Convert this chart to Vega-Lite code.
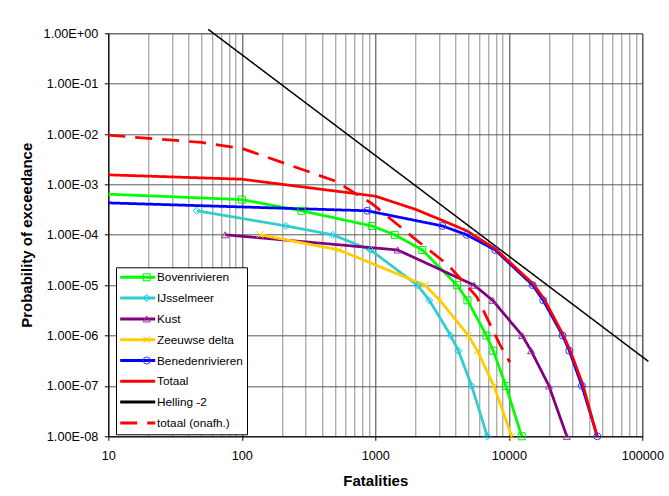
{
  "$schema": "https://vega.github.io/schema/vega-lite/v6.json",
  "width": 534,
  "height": 403,
  "autosize": {"type": "none"},
  "padding": {"left": 108.3, "top": 33.3, "right": 26.7, "bottom": 59.7},
  "background": "white",
  "config": {
    "font": "Liberation Sans",
    "view": {"stroke": "#808080", "strokeWidth": 1},
    "axis": {"labelFont": "Liberation Sans", "titleFont": "Liberation Sans", "labelColor": "#000", "titleColor": "#000", "domainColor": "#000", "tickColor": "#000", "domainWidth": 1}
  },
  "data": {
    "values": [
      {"series": "Bovenrivieren", "N": 10, "P": 6.4e-4},
      {"series": "Bovenrivieren", "N": 100, "P": 5e-4},
      {"series": "Bovenrivieren", "N": 280, "P": 3e-4},
      {"series": "Bovenrivieren", "N": 940, "P": 1.5e-4},
      {"series": "Bovenrivieren", "N": 1400, "P": 1e-4},
      {"series": "Bovenrivieren", "N": 2250, "P": 5e-5},
      {"series": "Bovenrivieren", "N": 4100, "P": 1e-5},
      {"series": "Bovenrivieren", "N": 4900, "P": 5e-6},
      {"series": "Bovenrivieren", "N": 6800, "P": 1e-6},
      {"series": "Bovenrivieren", "N": 7650, "P": 5e-7},
      {"series": "Bovenrivieren", "N": 9500, "P": 1e-7},
      {"series": "Bovenrivieren", "N": 12500, "P": 1e-8},
      {"series": "IJsselmeer", "N": 46, "P": 3e-4},
      {"series": "IJsselmeer", "N": 214, "P": 1.5e-4},
      {"series": "IJsselmeer", "N": 480, "P": 1e-4},
      {"series": "IJsselmeer", "N": 920, "P": 5e-5},
      {"series": "IJsselmeer", "N": 2070, "P": 1e-5},
      {"series": "IJsselmeer", "N": 2540, "P": 5e-6},
      {"series": "IJsselmeer", "N": 3670, "P": 1e-6},
      {"series": "IJsselmeer", "N": 4190, "P": 5e-7},
      {"series": "IJsselmeer", "N": 5270, "P": 1e-7},
      {"series": "IJsselmeer", "N": 6900, "P": 1e-8},
      {"series": "Kust", "N": 75, "P": 1e-4},
      {"series": "Kust", "N": 1470, "P": 5e-5},
      {"series": "Kust", "N": 5500, "P": 1e-5},
      {"series": "Kust", "N": 7570, "P": 5e-6},
      {"series": "Kust", "N": 12600, "P": 1e-6},
      {"series": "Kust", "N": 14700, "P": 5e-7},
      {"series": "Kust", "N": 20000, "P": 1e-7},
      {"series": "Kust", "N": 27200, "P": 1e-8},
      {"series": "Zeeuwse delta", "N": 137, "P": 1e-4},
      {"series": "Zeeuwse delta", "N": 535, "P": 5e-5},
      {"series": "Zeeuwse delta", "N": 2350, "P": 1e-5},
      {"series": "Zeeuwse delta", "N": 3050, "P": 5e-6},
      {"series": "Zeeuwse delta", "N": 4980, "P": 1e-6},
      {"series": "Zeeuwse delta", "N": 5810, "P": 5e-7},
      {"series": "Zeeuwse delta", "N": 7740, "P": 1e-7},
      {"series": "Zeeuwse delta", "N": 10500, "P": 1e-8},
      {"series": "Benedenrivieren", "N": 10, "P": 4.3e-4},
      {"series": "Benedenrivieren", "N": 870, "P": 3e-4},
      {"series": "Benedenrivieren", "N": 3180, "P": 1.5e-4},
      {"series": "Benedenrivieren", "N": 4840, "P": 1e-4},
      {"series": "Benedenrivieren", "N": 7900, "P": 5e-5},
      {"series": "Benedenrivieren", "N": 15100, "P": 1e-5},
      {"series": "Benedenrivieren", "N": 18100, "P": 5e-6},
      {"series": "Benedenrivieren", "N": 25300, "P": 1e-6},
      {"series": "Benedenrivieren", "N": 28400, "P": 5e-7},
      {"series": "Benedenrivieren", "N": 35300, "P": 1e-7},
      {"series": "Benedenrivieren", "N": 46000, "P": 1e-8},
      {"series": "Totaal", "N": 10, "P": 1.55e-3},
      {"series": "Totaal", "N": 100, "P": 1.27e-3},
      {"series": "Totaal", "N": 1000, "P": 5.85e-4},
      {"series": "Totaal", "N": 2000, "P": 3.2e-4},
      {"series": "Totaal", "N": 3150, "P": 1.95e-4},
      {"series": "Totaal", "N": 4840, "P": 1.2e-4},
      {"series": "Totaal", "N": 7900, "P": 5.3e-5},
      {"series": "Totaal", "N": 15300, "P": 1.05e-5},
      {"series": "Totaal", "N": 18400, "P": 5.3e-6},
      {"series": "Totaal", "N": 25600, "P": 1.02e-6},
      {"series": "Totaal", "N": 28700, "P": 5.2e-7},
      {"series": "Totaal", "N": 36000, "P": 1.03e-7},
      {"series": "Totaal", "N": 45800, "P": 1e-8},
      {"series": "Helling -2", "N": 56, "P": 1.2},
      {"series": "Helling -2", "N": 111000, "P": 3.07e-7},
      {"series": "totaal (onafh.)", "N": 10, "P": 9.5e-3},
      {"series": "totaal (onafh.)", "N": 50, "P": 6.8e-3},
      {"series": "totaal (onafh.)", "N": 100, "P": 5.2e-3},
      {"series": "totaal (onafh.)", "N": 500, "P": 1.17e-3},
      {"series": "totaal (onafh.)", "N": 940, "P": 4.2e-4},
      {"series": "totaal (onafh.)", "N": 2040, "P": 7.8e-5},
      {"series": "totaal (onafh.)", "N": 3520, "P": 2.5e-5},
      {"series": "totaal (onafh.)", "N": 5750, "P": 5.9e-6},
      {"series": "totaal (onafh.)", "N": 8500, "P": 6.9e-7},
      {"series": "totaal (onafh.)", "N": 10200, "P": 2.95e-7}
    ]
  },
  "encoding": {
    "x": {
      "field": "N",
      "type": "quantitative",
      "scale": {"type": "log", "domain": [10, 100000], "nice": false},
      "axis": {
        "title": "Fatalities",
        "titleFontSize": 15,
        "titleFontWeight": "bold",
        "titleBaseline": "alphabetic",
        "titleX": 267,
        "titleY": 49,
        "values": [10, 20, 30, 40, 50, 60, 70, 80, 90, 100, 200, 300, 400, 500, 600, 700, 800, 900, 1000, 2000, 3000, 4000, 5000, 6000, 7000, 8000, 9000, 10000, 20000, 30000, 40000, 50000, 60000, 70000, 80000, 90000, 100000],
        "labelExpr": "abs(log(datum.value)/LN10 - round(log(datum.value)/LN10)) < 0.000001 ? format(datum.value, 'd') : ''",
        "labelFontSize": 12.7,
        "labelPadding": 9.5,
        "labelFlush": false,
        "labelOverlap": false,
        "labelBound": false,
        "tickSize": 4,
        "tickOpacity": {"condition": {"test": "abs(log(datum.value)/LN10 - round(log(datum.value)/LN10)) < 0.000001", "value": 1}, "value": 0},
        "grid": true,
        "gridColor": {"condition": {"test": "abs(log(datum.value)/LN10 - round(log(datum.value)/LN10)) < 0.000001", "value": "#404040"}, "value": "#8c8c8c"},
        "gridOpacity": 1,
        "gridWidth": 1
      }
    },
    "y": {
      "field": "P",
      "type": "quantitative",
      "scale": {"type": "log", "domain": [1e-8, 1], "nice": false},
      "axis": {
        "title": "Probability of exceedance",
        "titleFontSize": 15,
        "titleFontWeight": "bold",
        "titleBaseline": "alphabetic",
        "titleX": -77.3,
        "titleY": 201.5,
        "values": [1e-8, 1e-7, 1e-6, 1e-5, 1e-4, 1e-3, 1e-2, 1e-1, 1],
        "labelExpr": "'1.00E' + (round(log(datum.value)/LN10) < 0 ? '-' : '+') + (abs(round(log(datum.value)/LN10)) < 10 ? '0' : '') + abs(round(log(datum.value)/LN10))",
        "labelFontSize": 12.7,
        "labelPadding": 6.5,
        "labelFlush": false,
        "labelOverlap": false,
        "labelBound": false,
        "tickSize": 4,
        "grid": true,
        "gridColor": "#595959",
        "gridOpacity": 1,
        "gridWidth": 1
      }
    }
  },
  "layer": [
    {
      "mark": {"type": "line", "clip": false},
      "encoding": {
        "color": {
          "field": "series",
          "type": "nominal",
          "scale": {
            "domain": ["Bovenrivieren", "IJsselmeer", "Kust", "Zeeuwse delta", "Benedenrivieren", "Totaal", "Helling -2", "totaal (onafh.)"],
            "range": ["#00ff00", "#33cccc", "#800080", "#ffcc00", "#0000ff", "#ff0000", "#000000", "#ff0000"]
          },
          "legend": {
            "orient": "none", "legendX": 7.7, "legendY": 234, "title": null, "columns": 1,
            "clipHeight": 12, "rowPadding": 7.8, "padding": 4,
            "strokeColor": "#000000", "fillColor": "#ffffff",
            "symbolType": "stroke", "symbolSize": 1225, "symbolStrokeWidth": 3,
            "symbolOffset": -1.3, "labelOffset": 0.3,
            "labelFont": "Liberation Sans", "labelFontSize": 11.8, "labelColor": "#000000",
            "zindex": 0
          }
        },
        "strokeDash": {
          "field": "series",
          "type": "nominal",
          "scale": {
            "domain": ["Bovenrivieren", "IJsselmeer", "Kust", "Zeeuwse delta", "Benedenrivieren", "Totaal", "Helling -2", "totaal (onafh.)"],
            "range": [[1, 0], [1, 0], [1, 0], [1, 0], [1, 0], [1, 0], [1, 0], [17, 10]]
          },
          "legend": {
            "orient": "none", "legendX": 7.7, "legendY": 234, "title": null, "columns": 1,
            "clipHeight": 12, "rowPadding": 7.8, "padding": 4,
            "strokeColor": "#000000", "fillColor": "#ffffff",
            "symbolType": "stroke", "symbolSize": 1225, "symbolStrokeWidth": 3,
            "symbolOffset": -1.3, "labelOffset": 0.3,
            "labelFont": "Liberation Sans", "labelFontSize": 11.8, "labelColor": "#000000",
            "zindex": 0
          }
        },
        "strokeWidth": {"condition": {"test": "datum.series === 'Helling -2'", "value": 1.5}, "value": 2.75}
      }
    },
    {
      "transform": [
        {"filter": "indexof(['Bovenrivieren','IJsselmeer','Kust','Zeeuwse delta','Benedenrivieren'], datum.series) >= 0 && datum.N > 10"}
      ],
      "mark": {"type": "point", "filled": false, "strokeWidth": 1, "size": 49, "opacity": 1},
      "encoding": {
        "color": {
          "field": "series",
          "type": "nominal",
          "scale": {
            "domain": ["Bovenrivieren", "IJsselmeer", "Kust", "Zeeuwse delta", "Benedenrivieren"],
            "range": ["#00ee00", "#00ccff", "#993399", "#ffcc00", "#3333ff"]
          },
          "legend": {
            "orient": "none", "legendX": 7.7, "legendY": 234, "title": null, "columns": 1,
            "clipHeight": 12, "rowPadding": 7.8, "padding": 4,
            "symbolSize": 49, "symbolStrokeWidth": 1, "symbolOffset": 20.8,
            "labelFont": "Liberation Sans", "labelFontSize": 11.8, "labelExpr": "''",
            "zindex": 1
          }
        },
        "shape": {
          "field": "series",
          "type": "nominal",
          "scale": {
            "domain": ["Bovenrivieren", "IJsselmeer", "Kust", "Zeeuwse delta", "Benedenrivieren"],
            "range": ["square", "diamond", "triangle-up", "M-1,-1L1,1M1,-1L-1,1", "circle"]
          },
          "legend": {
            "orient": "none", "legendX": 7.7, "legendY": 234, "title": null, "columns": 1,
            "clipHeight": 12, "rowPadding": 7.8, "padding": 4,
            "symbolSize": 49, "symbolStrokeWidth": 1, "symbolOffset": 20.8,
            "labelFont": "Liberation Sans", "labelFontSize": 11.8, "labelExpr": "''",
            "zindex": 1
          }
        }
      }
    }
  ],
  "resolve": {"scale": {"color": "independent", "shape": "independent", "strokeDash": "independent"}}
}
